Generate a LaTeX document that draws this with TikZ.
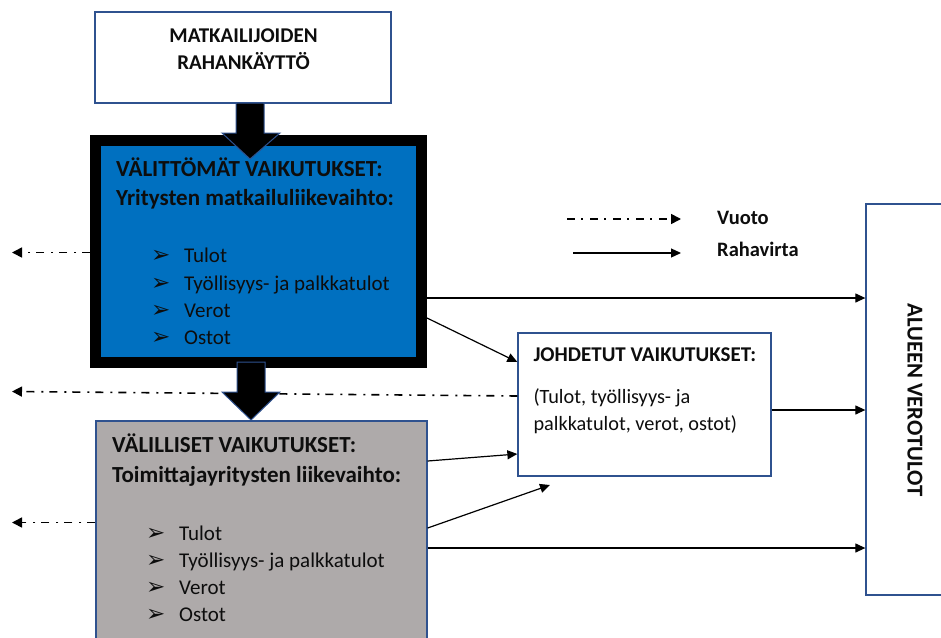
\documentclass[tikz,border=0pt]{standalone}
\usepackage{fontspec}
\setmainfont{Carlito}
\newfontfamily\dingfont{DejaVu Sans}
\usetikzlibrary{arrows.meta}

\definecolor{frameblue}{HTML}{2F528F}
\definecolor{boxblue}{HTML}{0070C0}
\definecolor{boxgrey}{HTML}{AEAAAA}
\definecolor{ink}{HTML}{0D0D0D}

\tikzset{
  panel/.style={draw=frameblue, line width=1.3pt, inner sep=0pt},
  title/.style={anchor=base west, inner sep=0pt, text=ink,
    font=\fontsize{23}{27}\selectfont\bfseries},
  item/.style={anchor=base west, inner sep=0pt, text=ink,
    font=\fontsize{21}{25}\selectfont},
  bullet/.style={anchor=base west, inner sep=0pt, text=ink,
    font=\dingfont\fontsize{23}{26}\selectfont},
  flow/.style={line width=1.2pt, -{Triangle[length=10pt,width=9pt]}},
  leak/.style={line width=1.6pt, dash pattern=on 8pt off 6pt on 2pt off 7pt,
    -{Triangle[length=10pt,width=10pt]}},
  blockarrow/.style={fill=black, draw=frameblue, line width=1pt, line join=miter},
}

\begin{document}
\begin{tikzpicture}[x=1pt, y=-1pt]
\useasboundingbox (0,0) rectangle (941,637);

% tourist spending
\node[panel, fill=white, minimum width=296pt, minimum height=91pt] (spend) at (243,57.5) {};
\node[anchor=base, inner sep=0pt, text=ink, font=\fontsize{21}{25}\selectfont\bfseries] (spendA) at (243.5,42.3) {MATKAILIJOIDEN};
\node[anchor=base, inner sep=0pt, text=ink, font=\fontsize{21}{25}\selectfont\bfseries] (spendB) at (243.5,69.3) {RAHANKÄYTTÖ};

% direct effects
\node[draw=black, line width=11pt, fill=boxblue, minimum width=326pt, minimum height=222pt, inner sep=0pt] (direct) at (258.5,251.5) {};
\node[title] (directA) at (116,176.7) {VÄLITTÖMÄT VAIKUTUKSET:};
\node[title] (directB) at (116,205) {Yritysten matkailuliikevaihto:};
\foreach \yy/\txt [count=\i] in {262.7/Tulot, 290.1/Työllisyys- ja palkkatulot, 317.5/Verot, 344.9/Ostot}{
  \node[bullet] (dmark\i) at (151,\yy) {➢};
  \node[item] (ditem\i) at (184,\yy) {\txt};
}

% arrow from spending to direct effects
\draw[blockarrow] (236,103) -- (264,103) -- (264,133) -- (280,133) -- (250,159)
  -- (222,133) -- (236,133) -- cycle;

% indirect effects
\node[panel, fill=boxgrey, minimum width=331pt, minimum height=239pt] (indirect) at (261.5,540.5) {};
\node[title] (indirectA) at (112,452.7) {VÄLILLISET VAIKUTUKSET:};
\node[title] (indirectB) at (112,482.7) {Toimittajayritysten liikevaihto:};
\foreach \yy/\txt [count=\i] in {540/Tulot, 567.2/Työllisyys- ja palkkatulot, 594.4/Verot, 621.6/Ostot}{
  \node[bullet] (imark\i) at (146,\yy) {➢};
  \node[item] (iitem\i) at (179,\yy) {\txt};
}

% induced effects
\node[panel, fill=white, minimum width=253pt, minimum height=143pt] (induced) at (644.5,404.5) {};
\node[title, font=\fontsize{21}{25}\selectfont\bfseries] (inducedA) at (533.3,361) {JOHDETUT VAIKUTUKSET:};
\node[item, font=\fontsize{20.3}{24}\selectfont] (inducedB) at (533.3,403.3) {(Tulot, työllisyys- ja};
\node[item, font=\fontsize{20.3}{24}\selectfont] (inducedC) at (533.3,430.7) {palkkatulot, verot, ostot)};

% regional tax revenue
\node[panel, fill=white, minimum width=94pt, minimum height=391pt] (tax) at (913,399.5) {};
\node[rotate=-90, inner sep=0pt, text=ink, font=\fontsize{22.7}{26}\selectfont\bfseries] (taxlabel) at (915,400) {ALUEEN VEROTULOT};

% leakage out of the region
\coordinate (out1) at (12,252.5);
\coordinate (out2) at (12,391.5);
\coordinate (out3) at (12,522.5);
\draw[leak] (direct.west |- 0,252.5) -- (out1);
\draw[leak] (induced.west |- 0,396) -- (out2);
\draw[leak] (indirect.west |- 0,522.5) -- (out3);

% arrow from direct to indirect effects
\draw[blockarrow] (237,362) -- (265,362) -- (265,392) -- (280,392) -- (251,420)
  -- (222,392) -- (237,392) -- cycle;

% money flows
\coordinate (below) at (550,485);
\draw[flow] (direct.east |- 0,298) -- (tax.west |- 0,298);
\draw[flow] (direct.east |- 0,318) -- (induced.west |- 0,362);
\draw[flow] (indirect.east |- 0,461) -- (induced.west |- 0,454);
\draw[flow] (indirect.east |- 0,528) -- (below);
\draw[flow] (indirect.east |- 0,548) -- (tax.west |- 0,548);
\draw[flow] (induced.east |- 0,410) -- (tax.west |- 0,410);

% legend
\coordinate (legA0) at (567,219);
\coordinate (legA1) at (681,219);
\coordinate (legB0) at (573,253);
\coordinate (legB1) at (681,253);
\draw[leak] (legA0) -- (legA1);
\draw[flow] (legB0) -- (legB1);
\node[title, font=\fontsize{20.5}{24}\selectfont\bfseries] (legAtext) at (717,224.3) {Vuoto};
\node[title, font=\fontsize{20.5}{24}\selectfont\bfseries] (legBtext) at (717,256.7) {Rahavirta};
\end{tikzpicture}
\end{document}
